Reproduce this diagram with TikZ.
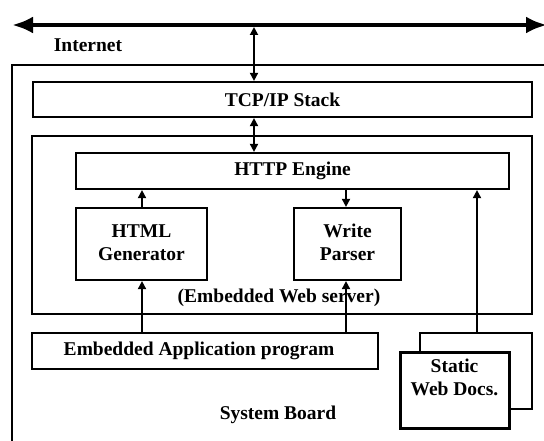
\documentclass[tikz,border=0pt]{standalone}
\usepackage{fontspec}
\setmainfont{Liberation Serif}
\usetikzlibrary{arrows.meta}
\begin{document}
\begin{tikzpicture}[x=1pt,y=-1pt,
  lbl/.style={font=\fontsize{19.5}{24}\selectfont\bfseries, inner sep=0pt, align=center},
  box/.style={draw, line width=2.2pt, fill=white, inner sep=0pt, lbl},
  link/.style={line width=1.8pt},
  tip/.style={-{Triangle[width=8pt,length=8pt]}},
  both/.style={{Triangle[width=8pt,length=8pt]}-{Triangle[width=8pt,length=8pt]}}]
\useasboundingbox (0,0) rectangle (544,441);
\clip (0,0) rectangle (544,441);
\fill[white] (0,0) rectangle (544,441);

% Internet bus
\coordinate (busL) at (12,25);
\coordinate (busR) at (547,25);
\draw[line width=4.5pt, {Latex[length=21pt,width=17pt]}-{Latex[length=21pt,width=17pt]}] (busL) -- (busR);
\node[lbl] (inet) at (88,45) {Internet};

% System board outline
\coordinate (sbBL) at (12,445);
\coordinate (sbTL) at (12,65);
\coordinate (sbTR) at (550,65);
\draw[line width=2pt] (sbBL) -- (sbTL) -- (sbTR);
\node[lbl] (sb) at (278,415) {System Board};

% Boxes
\node[box, minimum width=499pt, minimum height=35pt] (tcp) at (282.5,99.5) {TCP/IP Stack};
\node[box, minimum width=500pt, minimum height=178pt] (web) at (282,225) {};
\node[box, minimum width=433pt, minimum height=36pt] (http) at (292.5,171) {HTTP Engine};
\node[box, minimum width=131pt, minimum height=72pt] (html) at (141.5,244) {\raisebox{3pt}{\begin{tabular}{@{}c@{}}HTML\\[-1pt]Generator\end{tabular}}};
\node[box, minimum width=107pt, minimum height=72pt] (wp) at (347.5,244) {\raisebox{3pt}{\begin{tabular}{@{}c@{}}Write\\[-1pt]Parser\end{tabular}}};
\node[lbl] (wslabel) at (279,298) {(Embedded Web server)};
\node[box, minimum width=346pt, minimum height=36pt] (app) at (205,351) {\hspace*{-12pt}Embedded Application program};
\node[box, minimum width=112pt, minimum height=76pt] (docsback) at (476,371) {};
\node[box, line width=3pt, minimum width=109pt, minimum height=76pt, anchor=north] (docs) at (454.5,351) {};
\node[lbl, anchor=north] (docstext) at ([yshift=-4pt]docs.north) {\begin{tabular}{@{}c@{}}Static\\[-1pt]Web Docs.\end{tabular}};

% Connectors
\coordinate (drop) at (254,27);
\draw[link, both] (drop) -- (drop |- tcp.north);
\draw[link, both] (drop |- tcp.south) -- (drop |- http.north);
\coordinate (colA) at (142,0);
\coordinate (colB) at (346,0);
\coordinate (colC) at (477,0);
\draw[link, tip] (colA |- html.north) -- (colA |- http.south);
\draw[link, tip] (colB |- http.south) -- (colB |- wp.north);
\draw[link, tip] (colA |- app.north) -- (colA |- html.south);
\draw[link, tip] (colB |- app.north) -- (colB |- wp.south);
\draw[link, tip] (colC |- docsback.north) -- (colC |- http.south);
\end{tikzpicture}
\end{document}
